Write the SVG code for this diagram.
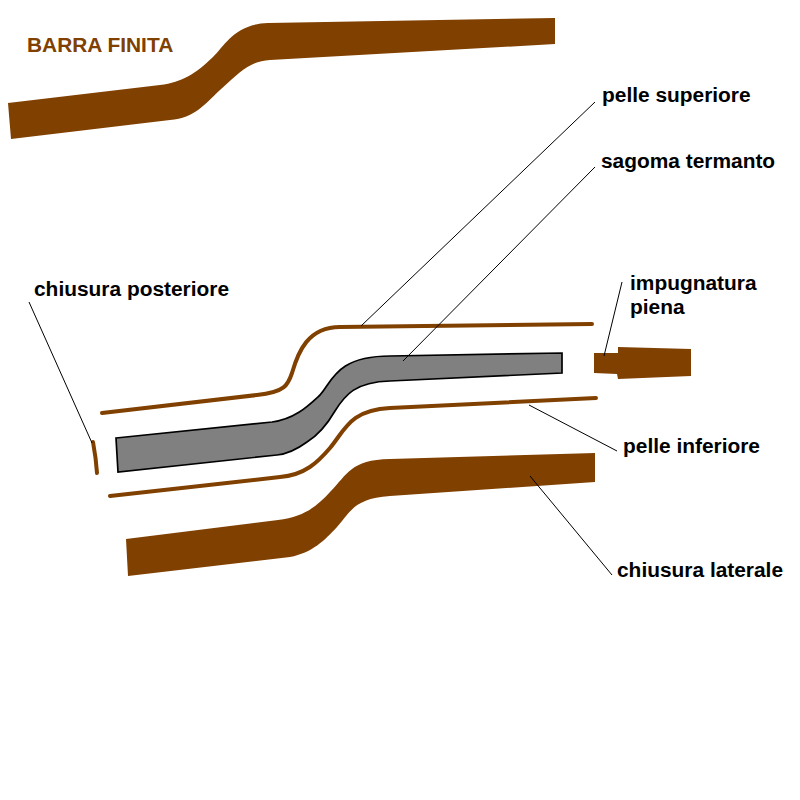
<svg xmlns="http://www.w3.org/2000/svg" width="800" height="800" viewBox="0 0 800 800">
<style>
.t{font-family:"Liberation Sans",Arial,sans-serif;font-size:20.9px;font-weight:bold;fill:#000}
.b{fill:#804000;stroke:none}
.s{fill:none;stroke:#804000;stroke-width:4;stroke-linecap:round;stroke-linejoin:round}
.l{fill:none;stroke:#000;stroke-width:1}
</style>
<rect width="800" height="800" fill="#fff"/>
<g id="barra-finita"><path class="b" d="M8 103L160 85C183 82 195 74 213 57C225 45 235 24 268 23L555 18V44L270 60C250 61 240 72 220 90C205 104 195 118 170 120L11 139Z"/>
<text class="t" x="27" y="52" style="fill:#804000">BARRA FINITA</text></g>
<g id="pelle-superiore"><path class="s" d="M102 413L257 395C285 392 288 385 292 373C298 352 308 327 340 327L592 324"/>
<text class="t" x="602" y="102">pelle superiore</text></g>
<g id="sagoma-termanto"><path fill="#808080" stroke="#000" stroke-width="1.7" d="M116 438L272 422C295 419 308 406 320 395C332 382 336 356 390 356L562 353V373L390 381C355 382 345 395 335 411C328 423 320 434 307 442C296 450 287 454 277 455L118 472Z"/>
<text class="t" x="601" y="168">sagoma termanto</text></g>
<g id="pelle-inferiore"><path class="s" d="M110 496L280 477C305 475 318 462 330 448C345 430 350 410 390 408L596 398"/>
<text class="t" x="623" y="453">pelle inferiore</text></g>
<g id="chiusura-laterale"><path class="b" d="M126 539L278 520C305 517 318 505 330 492C348 474 350 460 390 459L595 453V482L390 496C355 498 350 512 337 527C325 540 312 553 290 557L128 576Z"/>
<text class="t" x="617" y="577">chiusura laterale</text></g>
<g id="chiusura-posteriore"><path class="s" d="M93 442Q96 458 97 473"/>
<text class="t" x="34" y="296">chiusura posteriore</text></g>
<g id="impugnatura-piena"><path class="b" d="M594 353L618 353V347L691 349V376L618 379L617 374L594 373Z"/>
<text class="t" x="630" y="290">impugnatura</text><text class="t" x="630" y="314">piena</text></g>
<g id="connectors">
<path class="l" d="M595 102L361 326"/><path class="l" d="M595 167L403 361"/>
<path class="l" d="M29 302L92 443"/><path class="l" d="M622 282L604 356"/>
<path class="l" d="M617 451L529 405"/><path class="l" d="M612 575L530 476"/>
</g>
</svg>
